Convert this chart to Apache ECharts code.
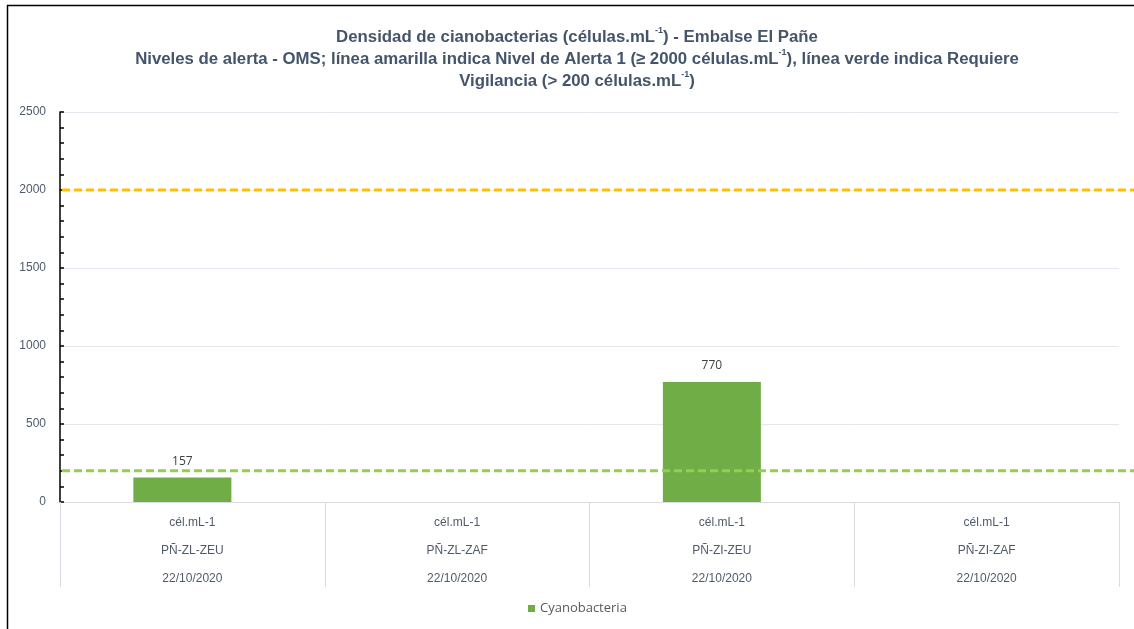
<!DOCTYPE html>
<html>
<head>
<meta charset="utf-8">
<script src="https://cdn.jsdelivr.net/npm/echarts@6/dist/echarts.min.js"></script>
<style>
html,body{margin:0;padding:0;background:#fff;}
#c{width:1134px;height:629px;}
</style>
</head>
<body>
<div id="c"></div>
<script>
const categories = [
  ['cél.mL-1', 'PÑ-ZL-ZEU', '22/10/2020'],
  ['cél.mL-1', 'PÑ-ZL-ZAF', '22/10/2020'],
  ['cél.mL-1', 'PÑ-ZI-ZEU', '22/10/2020'],
  ['cél.mL-1', 'PÑ-ZI-ZAF', '22/10/2020']
];
const seriesName = 'Cyanobacteria';
const cyanobacteria = [157, null, 770, null];
const emptySeries = [null, null, null, null];
const alertLevel1 = 2000;
const vigilance = 200;
const yTicks = [0, 500, 1000, 1500, 2000, 2500];

const chart = echarts.init(document.getElementById('c'));
const titleFont = '"Liberation Sans", Arial, sans-serif';
const titleColor = '#44546a';
const supStyle = {fontSize: 9, fontWeight: 'bold', color: titleColor, fontFamily: titleFont, verticalAlign: 'top', lineHeight: 16, padding: [0, 0, 8, 0]};
const baseStyle = {fontSize: 16.8, fontWeight: 'bold', color: titleColor, fontFamily: titleFont, lineHeight: 22};

chart.setOption({
  animation: false,
  backgroundColor: '#fff',
  title: {
    text: 'Densidad de cianobacterias (células.mL{s|-1}) - Embalse El Pañe\n' +
          'Niveles de alerta - OMS; línea amarilla indica Nivel de Alerta 1 (≥ 2000 células.mL{s|-1}), línea verde indica Requiere\n' +
          'Vigilancia (> 200 células.mL{s|-1})',
    left: 572,
    textAlign: 'center',
    top: 21,
    textStyle: Object.assign({}, baseStyle, {rich: {s: supStyle}})
  },
  graphic: [
    {type: 'line', shape: {x1: 7.5, y1: 5, x2: 7.5, y2: 629}, style: {stroke: '#000', lineWidth: 1.5}},
    {type: 'line', shape: {x1: 7, y1: 5.5, x2: 1134, y2: 5.5}, style: {stroke: '#000', lineWidth: 1.5}}
  ],
  legend: {
    bottom: 9,
    left: 523,
    icon: 'rect',
    itemWidth: 7,
    itemHeight: 7,
    itemGap: 10,
    data: [seriesName],
    textStyle: {fontSize: 13, color: '#595959', fontFamily: '"Open Sans", "Noto Sans", sans-serif'}
  },
  grid: [
    {left: 60, right: 15, top: 112, bottom: 127, containLabel: false},
    {left: 62, right: 0, top: 112, bottom: 127, containLabel: false}
  ],
  xAxis: [
    {
      type: 'category',
      gridIndex: 0,
      data: categories.map(c => c.join('\n')),
      axisLine: {lineStyle: {color: '#d9dde3', width: 1}},
      axisTick: {show: true, length: 85, lineStyle: {color: '#d9dde3', width: 1}},
      axisLabel: {
        interval: 0,
        margin: 7,
        lineHeight: 28,
        fontSize: 12,
        color: '#4f5b6b',
        fontFamily: '"Liberation Sans", Arial, sans-serif'
      }
    },
    {type: 'value', gridIndex: 1, min: 0, max: 1, show: false}
  ],
  yAxis: [
    {
      type: 'value',
      gridIndex: 0,
      min: yTicks[0],
      max: yTicks[yTicks.length - 1],
      interval: 500,
      axisLine: {show: true, lineStyle: {color: '#000', width: 1.5}},
      axisTick: {show: true, inside: true, length: 4, lineStyle: {color: '#000', width: 1.5}},
      minorTick: {show: true, splitNumber: 5, length: 4, lineStyle: {color: '#000', width: 1.5}},
      axisLabel: {fontSize: 12, color: '#4f5b6b', margin: 14, fontFamily: '"Liberation Sans", Arial, sans-serif', formatter: v => String(v)},
      splitLine: {show: true, lineStyle: {color: '#e4e8ee', width: 1}}
    },
    {type: 'value', gridIndex: 1, min: yTicks[0], max: yTicks[yTicks.length - 1], show: false}
  ],
  series: [
    {
      name: seriesName,
      type: 'bar',
      xAxisIndex: 0,
      yAxisIndex: 0,
      data: cyanobacteria,
      barWidth: 98,
      barGap: '-79.6%',
      itemStyle: {color: '#70ad47'},
      label: {
        show: true,
        position: 'top',
        distance: 10,
        fontSize: 12,
        color: '#404040',
        fontFamily: '"Open Sans", "Noto Sans", sans-serif'
      },
      z: 2
    },
    {
      name: 'spacer',
      type: 'bar',
      xAxisIndex: 0,
      yAxisIndex: 0,
      data: emptySeries,
      barWidth: 98,
      silent: true,
      itemStyle: {color: 'transparent'}
    },
    {
      name: 'Alerta 1',
      type: 'line',
      xAxisIndex: 1,
      yAxisIndex: 1,
      data: [[0, alertLevel1], [1, alertLevel1]],
      symbol: 'none',
      lineStyle: {color: '#ffc000', width: 3, type: [8, 4]},
      z: 3
    },
    {
      name: 'Vigilancia',
      type: 'line',
      xAxisIndex: 1,
      yAxisIndex: 1,
      data: [[0, vigilance], [1, vigilance]],
      symbol: 'none',
      lineStyle: {color: '#92d050', width: 3, type: [8, 4]},
      z: 3
    }
  ]
});
</script>
</body>
</html>
